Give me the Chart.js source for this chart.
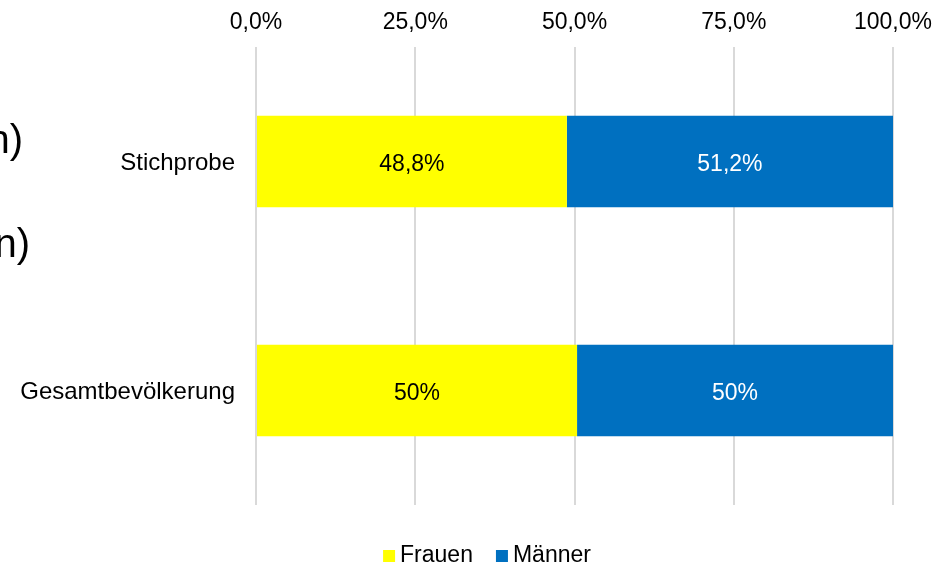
<!DOCTYPE html>
<html>
<head>
<meta charset="utf-8">
<script src="https://cdn.jsdelivr.net/npm/chart.js@4.4.1/dist/chart.umd.min.js"></script>
<style>
  html, body { margin: 0; padding: 0; background: #ffffff; }
  #wrap { width: 946px; height: 565px; position: relative; }
</style>
</head>
<body>
<div id="wrap"><canvas id="c" width="946" height="565"></canvas></div>
<script>
const categories = ['Stichprobe', 'Gesamtbevölkerung'];
const frauenValues = [48.8, 50.4];
const maennerValues = [51.2, 49.6];
const frauenLabels = ['48,8%', '50%'];
const maennerLabels = ['51,2%', '50%'];
const seriesNames = ['Frauen', 'Männer'];
const tickValues = [0, 25, 50, 75, 100];

const FONT = '"Liberation Sans", Arial, sans-serif';
const YELLOW = '#FFFF00';
const BLUE = '#0070C0';

const barLabels = {
  id: 'barLabels',
  afterDatasetsDraw(chart) {
    const ctx = chart.ctx;
    const lbls = [frauenLabels, maennerLabels];
    const cols = ['#000000', '#ffffff'];
    ctx.save();
    ctx.font = '23px ' + FONT;
    ctx.textAlign = 'center';
    ctx.textBaseline = 'middle';
    chart.data.datasets.forEach((ds, di) => {
      const meta = chart.getDatasetMeta(di);
      meta.data.forEach((el, i) => {
        const p = el.getCenterPoint();
        ctx.fillStyle = cols[di];
        ctx.fillText(lbls[di][i], p.x, p.y + 3);
      });
    });
    ctx.restore();
  }
};

const customLegend = {
  id: 'customLegend',
  afterDraw(chart) {
    const ctx = chart.ctx;
    ctx.save();
    ctx.font = '23px ' + FONT;
    ctx.textBaseline = 'middle';
    ctx.textAlign = 'left';
    const box = 12, gapText = 5, gapItem = 23;
    const widths = seriesNames.map(n => ctx.measureText(n).width);
    let total = 0;
    widths.forEach((w, i) => { total += box + gapText + w + (i < widths.length - 1 ? gapItem : 0); });
    let x = 487 - total / 2;
    const y = 556;
    chart.data.datasets.forEach((ds, i) => {
      ctx.fillStyle = ds.backgroundColor;
      ctx.fillRect(x, y - box / 2, box, box);
      x += box + gapText;
      ctx.fillStyle = '#000000';
      ctx.fillText(seriesNames[i], x, y);
      x += widths[i] + gapItem;
    });
    ctx.restore();
  }
};

const sideText = {
  id: 'sideText',
  afterDraw(chart) {
    const ctx = chart.ctx;
    ctx.save();
    ctx.font = '40px ' + FONT;
    ctx.fillStyle = '#000000';
    ctx.textAlign = 'right';
    ctx.textBaseline = 'alphabetic';
    ctx.fillText('n)', 23, 153);
    ctx.fillText('n)', 30, 257);
    ctx.restore();
  }
};

new Chart(document.getElementById('c'), {
  type: 'bar',
  data: {
    labels: categories,
    datasets: [
      { label: seriesNames[0], data: frauenValues, backgroundColor: YELLOW, borderWidth: 0,
        barPercentage: 0.4, categoryPercentage: 1.0 },
      { label: seriesNames[1], data: maennerValues, backgroundColor: BLUE, borderWidth: 0,
        barPercentage: 0.4, categoryPercentage: 1.0 }
    ]
  },
  options: {
    indexAxis: 'y',
    responsive: false,
    animation: false,
    devicePixelRatio: 1,
    layout: { padding: { left: 0, right: 53, top: 0, bottom: 60 } },
    plugins: {
      legend: { display: false },
      tooltip: { enabled: false }
    },
    scales: {
      x: {
        position: 'top',
        stacked: true,
        min: 0,
        max: 100,
        afterBuildTicks(scale) { scale.ticks = tickValues.map(v => ({ value: v })); },
        afterFit(scale) { scale.height = 47; },
        ticks: {
          callback: v => v.toFixed(1).replace('.', ',') + '%',
          font: { family: FONT, size: 23 },
          color: '#000000',
          padding: 11,
          maxRotation: 0
        },
        grid: { color: '#d9d9d9', lineWidth: 2, drawTicks: false },
        border: { display: false }
      },
      y: {
        stacked: true,
        afterFit(scale) { scale.width = 256; },
        ticks: {
          font: { family: FONT, size: 24 },
          color: '#000000',
          padding: 21,
          labelOffset: 2
        },
        grid: { display: false, drawTicks: false },
        border: { display: false }
      }
    }
  },
  plugins: [barLabels, customLegend, sideText]
});
</script>
</body>
</html>
